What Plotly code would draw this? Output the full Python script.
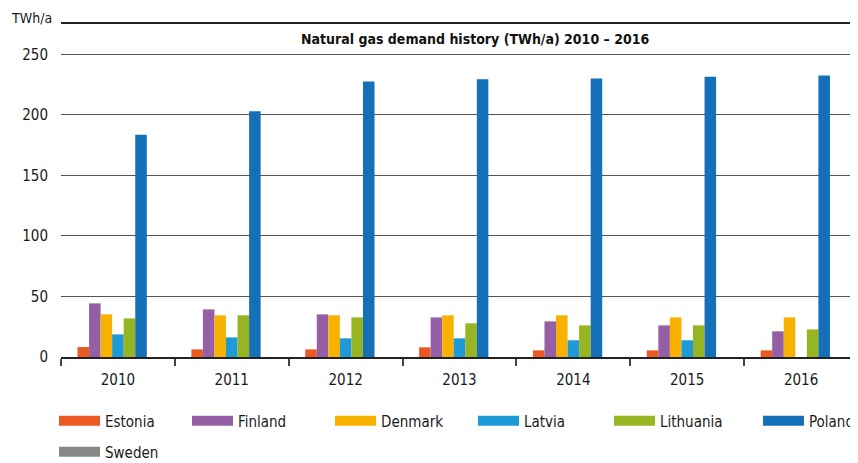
import plotly.graph_objects as go

# --- dados ---
anos = ["2010", "2011", "2012", "2013", "2014", "2015", "2016"]
estonia = [8.2, 6.3, 6.3, 8.0, 5.5, 5.5, 5.5]
finland = [44.3, 39.3, 35.2, 32.7, 29.4, 26.1, 21.2]
denmark = [35.2, 34.4, 34.4, 34.4, 34.4, 32.7, 32.7]
latvia = [18.7, 16.2, 15.4, 15.4, 13.8, 13.8, None]
lithuania = [31.9, 34.4, 32.7, 27.8, 26.1, 26.1, 22.8]
poland = [183.6, 203.0, 227.5, 229.3, 230.0, 231.4, 232.4]
sweden = [None] * 7

paises = ["Estonia", "Finland", "Denmark", "Latvia", "Lithuania", "Poland", "Sweden"]
series = [estonia, finland, denmark, latvia, lithuania, poland, sweden]
cores = ["#EB5A23", "#955FA5", "#F9B100", "#1E9AD6", "#97B421", "#1570B8", "#878787"]
# largura de cada item da legenda (px), para imitar o espaçamento irregular
larg_legenda = [77, 87, 87, 80, 93, 50, 50]

FONTE = "Liberation Sans Narrow, DejaVu Sans Condensed, Arial Narrow, sans-serif"

fig = go.Figure()
for nome, vals, cor in zip(paises, series, cores):
    fig.add_trace(go.Bar(x=anos, y=vals, name=nome, marker_color=cor,
                         marker_line_width=0, showlegend=False))

# entradas de legenda com amostra larga (linha grossa), Sweden na 2a linha
for nome, cor, lw in zip(paises, cores, larg_legenda):
    leg = "legend2" if nome == "Sweden" else "legend"
    fig.add_trace(go.Scatter(x=[None], y=[None], mode="lines", name=nome,
                             line=dict(color=cor, width=16), legend=leg,
                             legendwidth=lw, hoverinfo="skip"))

leg_comum = dict(orientation="h", x=-0.0088, xanchor="left", yanchor="middle",
                 itemwidth=41, font=dict(size=15), bgcolor="rgba(0,0,0,0)")

# a página tem margem de 8px no body -> figura 8px menor
fig.update_layout(
    width=850, height=455,
    margin=dict(l=53, r=0, t=16, b=106, autoexpand=False),
    plot_bgcolor="white", paper_bgcolor="white",
    font=dict(family=FONTE, size=15, color="#1a1a1a"),
    barmode="group", bargap=0.29, bargroupgap=0,
    showlegend=True,
    legend=dict(y=-0.192, **leg_comum),
    legend2=dict(y=-0.285, **leg_comum),
    xaxis=dict(type="category", showline=True, linecolor="#222", linewidth=2,
               mirror=True, ticks="outside", tickson="boundaries", ticklen=7,
               tickcolor="#444", tickwidth=2, showgrid=False, automargin=False,
               ticklabelstandoff=8, tickfont=dict(size=15)),
    yaxis=dict(range=[0, 275], tickvals=[0, 50, 100, 150, 200, 250],
               showgrid=True, gridcolor="#555", gridwidth=1.3, automargin=False,
               zeroline=False, showline=False, ticks="", ticklabelstandoff=12,
               tickfont=dict(size=15)),
)

fig.add_annotation(text="<b>Natural gas demand history (TWh/a) 2010 – 2016</b>",
                   x=0.5, xref="paper", xshift=16, y=262.5, yref="y", showarrow=False,
                   font=dict(size=14, color="#111"))
fig.add_annotation(text="TWh/a", x=-0.065, xref="paper", xanchor="left",
                   y=1, yref="paper", yanchor="middle", yshift=6, showarrow=False,
                   font=dict(size=14))

fig.write_html("out.html")
